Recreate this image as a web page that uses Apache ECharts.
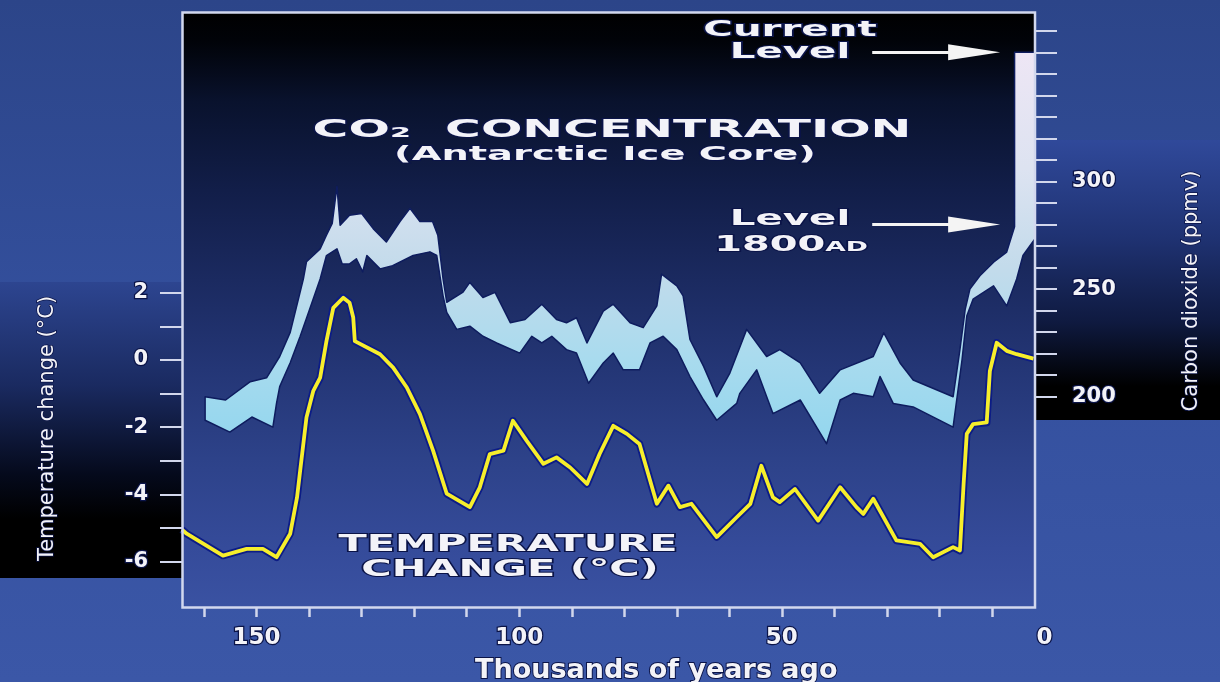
<!DOCTYPE html>
<html>
<head>
<meta charset="utf-8">
<script src="https://cdn.jsdelivr.net/npm/echarts@6/dist/echarts.min.js"></script>
<style>
html,body{margin:0;padding:0;background:#34509c;}
#chart{width:1220px;height:682px;}
</style>
</head>
<body>
<div id="chart"></div>
<script>
// ---- data (x = thousands of years ago) ----
const co2Upper = [[159.8,200],[155.9,198.5],[151.2,207],[148.1,208.8],[145.6,218.7],[143.6,229.9],[141.1,254.7],[140.5,262.7],[137.9,268.7],[136.7,275],[135.6,280.5],[134.7,297.7],[134.1,279.7],[132.3,284.3],[130.0,285.1],[127.8,278.1],[125.3,271.9],[122.7,281.4],[120.8,287.5],[118.9,281.4],[116.5,281.4],[115.5,275],[114.5,254.7],[113.8,243.9],[110.7,248.6],[109.4,253.1],[106.9,246.1],[104.6,248.5],[101.7,234.4],[98.9,235.9],[95.7,243],[92.9,235.9],[91.0,234.4],[89.1,236.7],[87.1,225],[84.0,239.8],[82.1,243],[78.9,234.4],[76.4,232.1],[73.8,242.2],[72.9,257],[70.0,251.5],[68.8,246.9],[67.5,226.6],[64.9,214.1],[62.4,200],[59.9,211],[56.7,231.3],[52.9,218.7],[50.4,221.9],[46.5,215.7],[42.8,201.6],[38.9,212.5],[32.6,218.7],[30.6,229.7],[27.5,215.7],[25.0,207.8],[17.4,200],[16.1,221.9],[15.1,240.6],[14.2,250],[12.3,256.2],[9.7,262.5],[7.2,267.2],[5.7,278.9],[5.7,360],[1.8,360]];
const co2Lower = [[159.8,189.1],[155.1,183.6],[150.9,190.6],[146.9,185.9],[146.2,197],[145.6,204.7],[143.6,215.8],[141.7,228.1],[139.9,240.6],[137.9,254.7],[136.7,265.6],[134.7,268.7],[133.7,261.7],[132.3,261.7],[131.0,264.1],[129.8,258],[129.0,265.6],[126.5,259.4],[124.1,260.9],[120.2,265.6],[117.0,267.3],[115.7,265.6],[114.5,246.9],[113.8,239.2],[111.9,231.3],[109.4,232.8],[106.9,228.1],[104.3,225],[99.9,220.3],[97.6,228.1],[95.7,225],[93.8,228.1],[91.0,221.9],[89.1,220.3],[86.8,206.3],[84.0,215.7],[82.1,220.3],[80.2,212.5],[77.1,212.5],[75.1,225],[72.6,228.1],[70.0,221.9],[67.5,209.4],[64.9,198.5],[62.4,189.1],[58.6,196.9],[58.0,201.6],[54.8,212.5],[51.7,192.2],[46.5,198.5],[41.5,178.2],[38.9,198.5],[36.4,201.6],[32.6,200],[31.3,209.4],[28.8,196.9],[25.0,195.3],[17.4,185.9],[15.7,217.2],[14.8,237.5],[13.6,245.3],[9.7,251.5],[7.2,242.2],[5.3,254.7],[4.1,265.6],[1.8,273.4]];
const temperature = [[164.2,-5.05],[163.3,-5.17],[156.4,-5.82],[151.9,-5.62],[148.8,-5.62],[146.2,-5.87],[143.6,-5.17],[142.3,-4.09],[141.7,-3.29],[140.5,-1.71],[139.2,-0.92],[137.9,-0.53],[136.7,0.56],[135.4,1.55],[133.5,1.85],[132.3,1.70],[131.6,1.26],[131.3,0.56],[126.5,0.17],[124.0,-0.23],[121.4,-0.82],[118.9,-1.61],[116.4,-2.70],[113.8,-3.98],[109.4,-4.38],[107.5,-3.79],[105.6,-2.80],[103.0,-2.70],[101.2,-1.81],[98.6,-2.40],[95.4,-3.09],[92.9,-2.90],[90.3,-3.20],[87.1,-3.69],[84.7,-2.80],[82.1,-1.96],[79.5,-2.20],[77.1,-2.50],[73.8,-4.28],[71.6,-3.74],[69.4,-4.38],[67.2,-4.28],[62.4,-5.27],[58.6,-4.68],[56.0,-4.28],[53.9,-3.15],[51.7,-4.09],[50.4,-4.23],[47.5,-3.84],[43.1,-4.78],[38.9,-3.79],[35.8,-4.38],[34.5,-4.58],[32.6,-4.13],[28.2,-5.37],[23.7,-5.47],[21.2,-5.87],[17.4,-5.57],[16.1,-5.67],[15.4,-3.69],[14.8,-2.20],[13.6,-1.91],[11.0,-1.86],[10.4,-0.33],[9.1,0.51],[7.2,0.27],[5.3,0.17],[2.1,0.04]];
const levelValues = [360, 280];           // ppmv: current level, level 1800AD
const xTickValues = [10,20,30,40,50,60,70,80,90,100,110,120,130,140,150,160];
const xLabelValues = [0,50,100,150];
const tempTickValues = [-6,-5,-4,-3,-2,-1,0,1,2];
const tempLabelValues = [-6,-4,-2,0,2];
const co2TickValues = [200,210,220,230,240,250,260,270,280,290,300,310,320,330,340,350,360,370];
const co2LabelValues = [200,250,300];

// ---- styling ----
const FONT = '"DejaVu Sans", Verdana, sans-serif';
const TXT = '#f3f3f8';
const EDGE = '#0b1448';
const TICK = '#d2d7ec';

function vgrad(stops, y0, y1) {
  return {type:'linear', x:0, y:y0, x2:0, y2:y1, global:true,
    colorStops: stops.map(s => ({offset:s[0], color:s[1]}))};
}
function txt(text, x, y, size, sx, extra) {
  const el = {type:'text', x:x, y:y, scaleX:sx, z:60, silent:true,
    style:{text:text, fontFamily:FONT, fontSize:size, fontWeight:'bold', fill:TXT,
      stroke:EDGE, lineWidth:2, strokeFirst:true,
      align:'center', verticalAlign:'middle', textAlign:'center', textVerticalAlign:'middle'}};
  if (extra) Object.assign(el.style, extra);
  return el;
}

const chart = echarts.init(document.getElementById('chart'), null, {renderer:'canvas'});

const bandFill = vgrad([[0,'#eee6f5'],[0.3,'#dde3f1'],[0.55,'#c3dbeb'],[0.78,'#a9dbee'],[1,'#92d6ee']], 50, 445);

const option = {
  animation:false,
  backgroundColor: vgrad([[0,'#2c4589'],[0.5,'#34509e'],[1,'#3b57a7']], 0, 682),
  grid:{left:182, top:12, width:862.5, height:596, containLabel:false, outerBoundsMode:'none'},
  xAxis:{
    type:'value', inverse:true, min:0, max:164.2,
    name:'Thousands of years ago', nameLocation:'middle', nameGap:46,
    nameTextStyle:{fontFamily:FONT, fontSize:27, fontWeight:'bold', color:TXT,
      textBorderColor:EDGE, textBorderWidth:2, padding:[0,0,0,86]},
    axisLine:{show:false, onZero:false},
    axisTick:{show:true, inside:false, length:9, customValues:xTickValues, lineStyle:{color:TICK, width:2.5}},
    axisLabel:{show:true, customValues:xLabelValues, margin:19, fontFamily:FONT, fontSize:23, fontWeight:'bold',
      color:TXT, textBorderColor:EDGE, textBorderWidth:2.5},
    splitLine:{show:false}
  },
  yAxis:[
    {
      type:'value', position:'left', min:-7.38, max:10.35,
      name:'Temperature change (°C)', nameLocation:'middle', nameRotate:90, nameGap:124,
      nameTextStyle:{fontFamily:FONT, fontSize:21, color:TXT, textBorderColor:EDGE, textBorderWidth:1.5,
        padding:[0,237,0,0]},
      axisLine:{show:false, onZero:false},
      axisTick:{show:true, inside:false, length:22, customValues:tempTickValues, lineStyle:{color:TICK, width:2}},
      axisLabel:{show:true, customValues:tempLabelValues, margin:34, fontFamily:FONT, fontSize:21, fontWeight:'bold',
        color:TXT, textBorderColor:EDGE, textBorderWidth:2.5},
      splitLine:{show:false}
    },
    {
      type:'value', position:'right', offset:-9.5, min:101.9, max:378.7,
      name:'Carbon dioxide (ppmv)', nameLocation:'middle', nameRotate:90, nameGap:146,
      nameTextStyle:{fontFamily:FONT, fontSize:21, color:TXT, textBorderColor:EDGE, textBorderWidth:1.5,
        padding:[0,0,0,38]},
      axisLine:{show:false, onZero:false},
      axisTick:{show:true, inside:false, length:22, customValues:co2TickValues, lineStyle:{color:TICK, width:2}},
      axisLabel:{show:true, customValues:co2LabelValues, margin:37, fontFamily:FONT, fontSize:21, fontWeight:'bold',
        color:TXT, textBorderColor:EDGE, textBorderWidth:2.5},
      splitLine:{show:false}
    }
  ],
  graphic:[
    // decorative dark bands of the poster background
    {type:'rect', z:-10, silent:true, shape:{x:0, y:282, width:182, height:296},
      style:{fill: vgrad([[0,'#2d4590'],[0.35,'#1a2a60'],[0.65,'#050a1c'],[0.8,'#000000'],[1,'#000000']], 282, 578)}},
    {type:'rect', z:-10, silent:true, shape:{x:1035, y:140, width:185, height:280},
      style:{fill: vgrad([[0,'#30499a'],[0.35,'#1f3272'],[0.65,'#0f1a40'],[0.88,'#000000'],[1,'#000000']], 140, 420)}},
    // plot background
    {type:'rect', z:-9, silent:true, shape:{x:182, y:12, width:853, height:596},
      style:{fill: vgrad([[0,'#000000'],[0.05,'#010309'],[0.15,'#09122d'],[0.3,'#121e49'],[0.45,'#1b2a60'],[0.6,'#243676'],[0.75,'#2d4289'],[0.9,'#354b9a'],[1,'#3a52a2']], 12, 608)}},
    // frame
    {type:'rect', z:55, silent:true, shape:{x:182.5, y:12.5, width:852.5, height:595},
      style:{fill:'none', stroke:'#d2d8ee', lineWidth:2.5}},
    // annotations
    txt('CO\u2082  CONCENTRATION', 612, 130, 25, 1.95),
    txt('(Antarctic Ice Core)', 605, 155, 20, 1.92),
    txt('Current', 790, 31, 21, 1.92),
    txt('Level', 790, 53, 21, 1.92),
    txt('Level', 790, 220, 21, 1.92),
    txt('{a|1800}{b|AD}', 791, 244, 21, 1.9, {rich:{
      a:{fontFamily:FONT, fontSize:21, fontWeight:'bold', fill:TXT, color:TXT, stroke:EDGE, lineWidth:2, lineHeight:24, verticalAlign:'bottom'},
      b:{fontFamily:FONT, fontSize:14, fontWeight:'bold', fill:TXT, color:TXT, stroke:EDGE, lineWidth:2, lineHeight:24, verticalAlign:'bottom', padding:[0,0,2,0]}}}),
    txt('TEMPERATURE', 508, 545, 23, 1.8),
    txt('CHANGE (°C)', 510, 570, 23, 1.8)
  ],
  series:[
    {
      type:'custom', name:'CO2 concentration', xAxisIndex:0, yAxisIndex:1, silent:true, z:2,
      data:[[80,250]],
      renderItem:function(params, api){
        const pts = co2Upper.map(p => api.coord(p))
          .concat(co2Lower.slice().reverse().map(p => api.coord(p)));
        return {type:'polygon', shape:{points:pts},
          style:{fill:bandFill, stroke:'#0e1c5e', lineWidth:1.5, lineJoin:'round'}};
      }
    },
    {
      type:'line', name:'temperature outline', xAxisIndex:0, yAxisIndex:0, data:temperature,
      showSymbol:false, symbol:'none', silent:true, z:3,
      lineStyle:{color:'#0c1c86', width:7.5, join:'round'}
    },
    {
      type:'line', name:'Temperature change', xAxisIndex:0, yAxisIndex:0, data:temperature,
      showSymbol:false, symbol:'none', silent:true, z:4,
      lineStyle:{color:'#f6ee2c', width:3.8, join:'round'}
    },
    {
      type:'line', name:'levels', xAxisIndex:0, yAxisIndex:1, data:[], silent:true, z:5,
      markLine:{
        silent:true, symbol:['none','triangle'], symbolSize:[16,52],
        label:{show:false},
        lineStyle:{color:'#f4f4f4', width:3, type:'solid'},
        emphasis:{disabled:true},
        data: levelValues.map(v => [{coord:[32.8, v]}, {coord:[13.4, v]}])
      }
    }
  ]
};
chart.setOption(option);
</script>
</body>
</html>
